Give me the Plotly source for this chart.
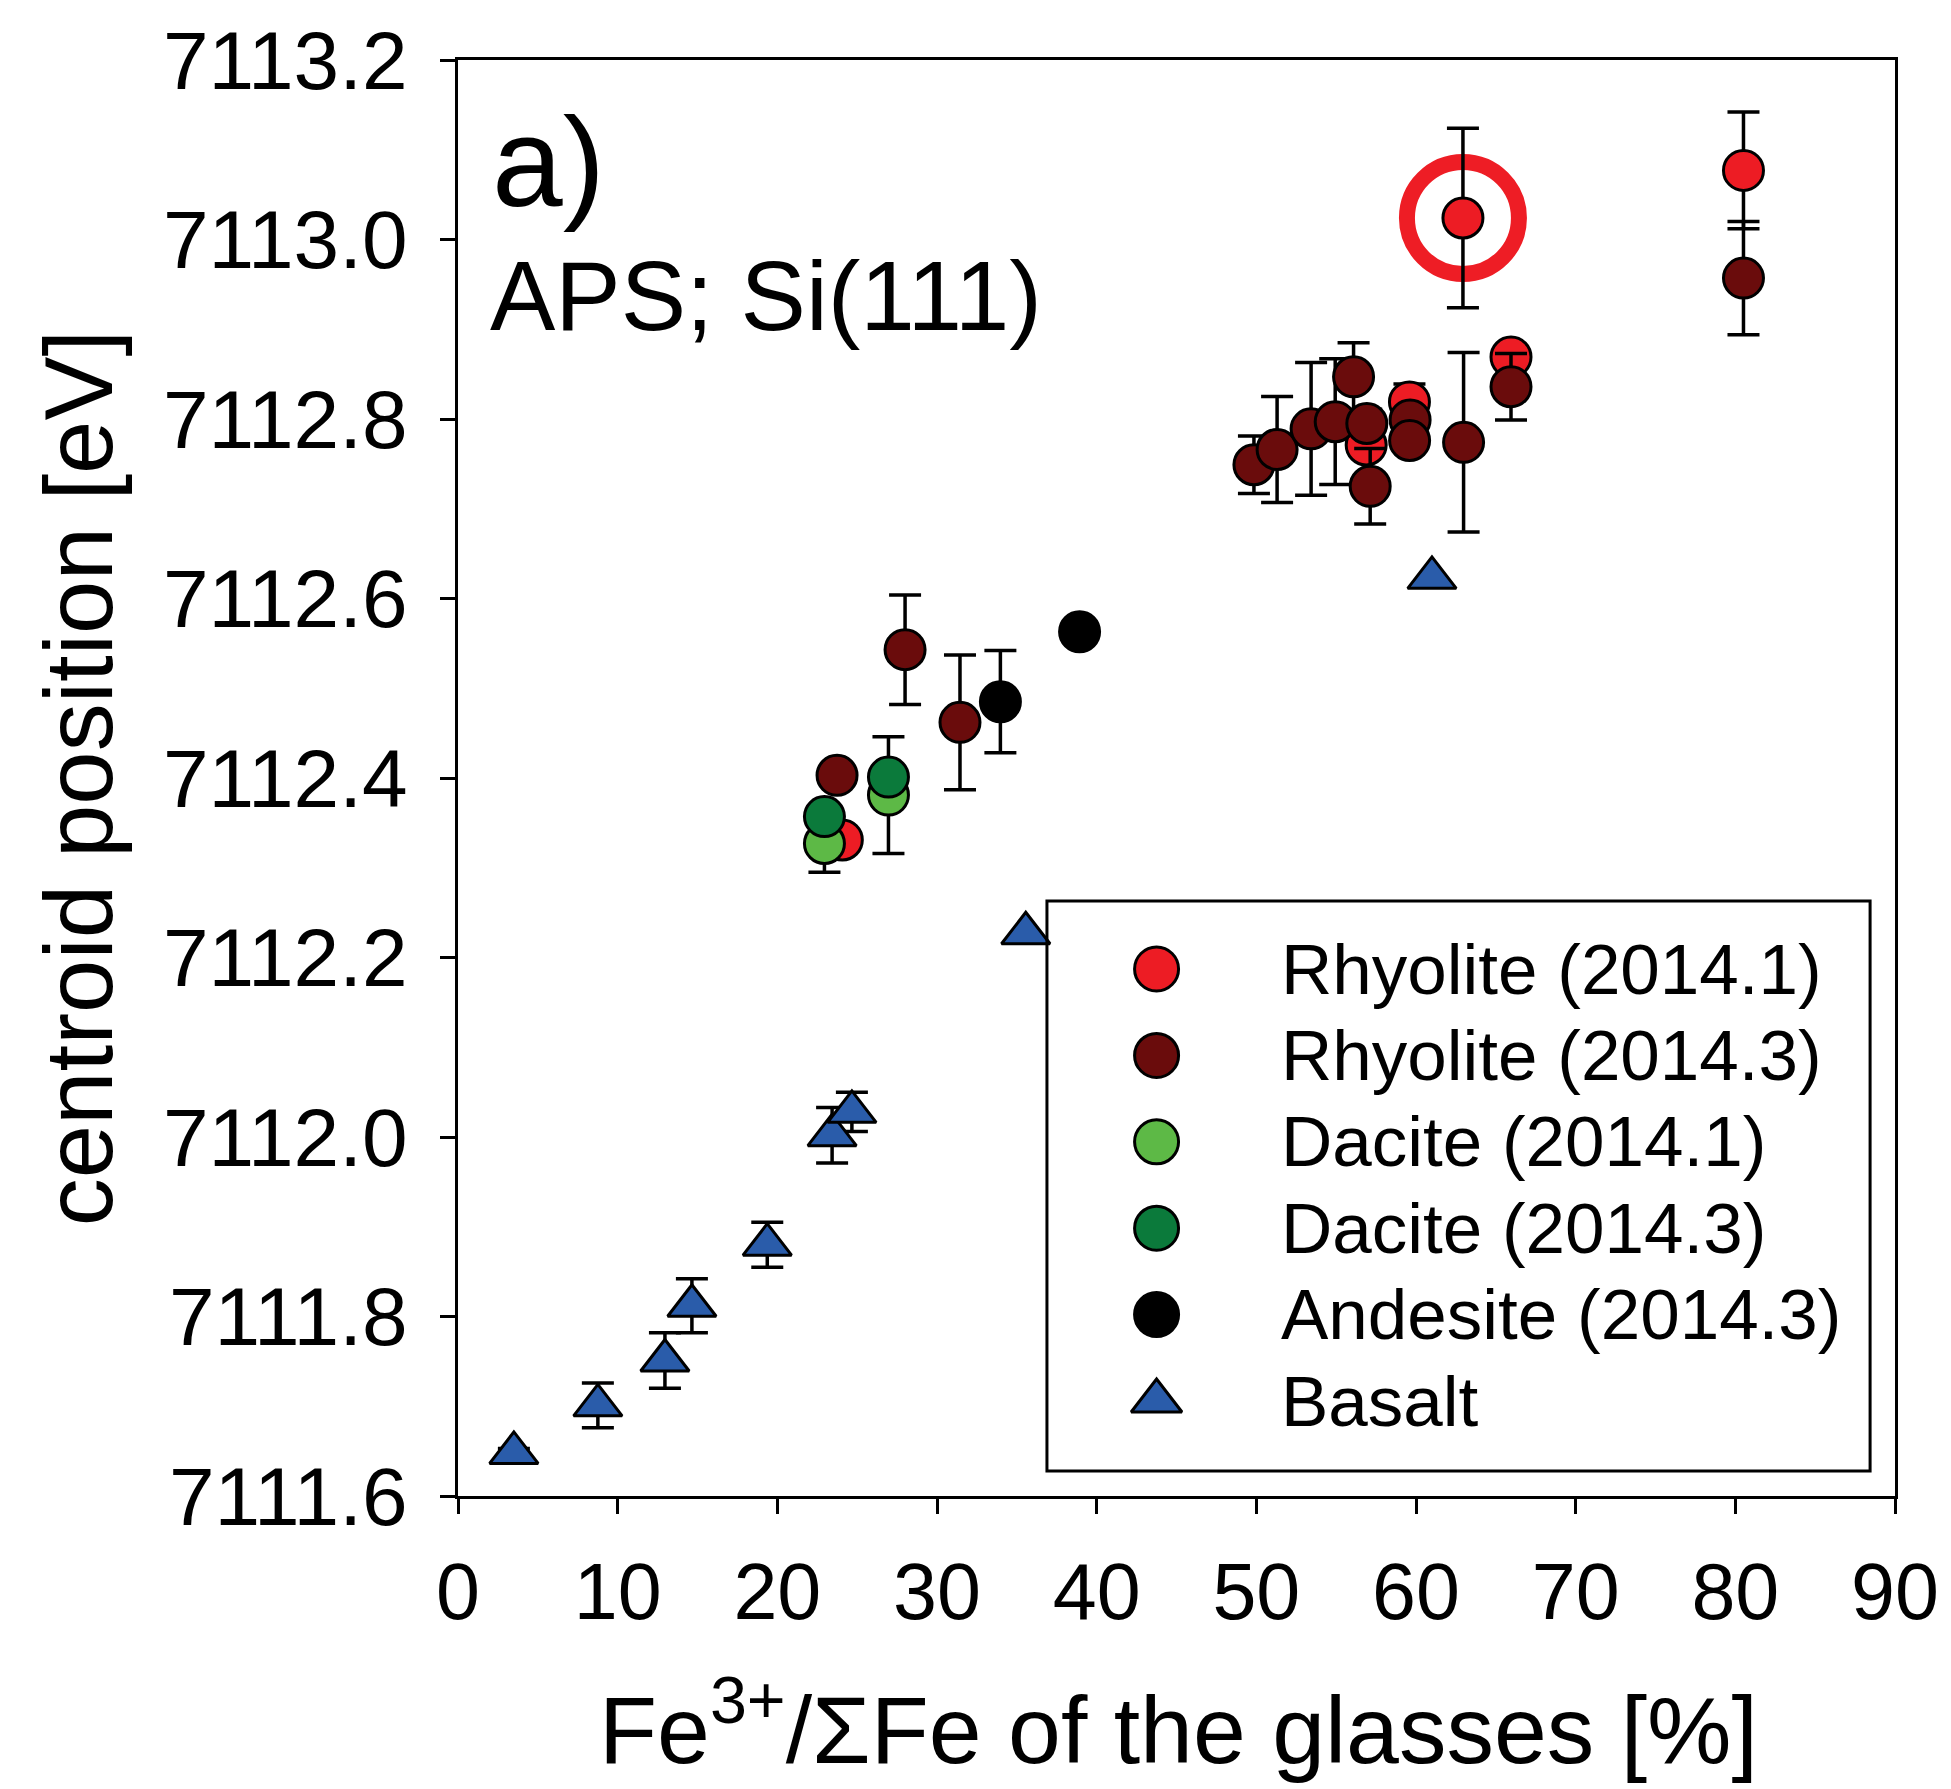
import plotly.graph_objects as go

# ---------------- data ----------------
rhy1_x = [24.07, 56.88, 59.59, 62.94, 65.95, 80.51]
rhy1_y = [7112.331, 7112.771, 7112.819, 7113.024, 7112.869, 7113.077]
rhy1_e = [None, 0.04, 0.02, 0.10, 0.01, 0.065]

rhy3_x = [23.74, 28.0, 31.44, 49.85, 51.3, 53.43, 54.94, 56.09, 56.92, 57.13,
          59.63, 59.6, 62.98, 65.95, 80.51]
rhy3_y = [7112.403, 7112.543, 7112.462, 7112.749, 7112.766, 7112.789, 7112.797,
          7112.847, 7112.795, 7112.725, 7112.799, 7112.776, 7112.774, 7112.836,
          7112.957]
rhy3_e = [None, 0.061, 0.075, 0.032, 0.059, 0.074, 0.070, 0.038, None, 0.042,
          None, None, 0.10, 0.037, 0.063]

dac1_x = [22.95, 26.96]
dac1_y = [7112.327, 7112.381]
dac1_e = [0.032, 0.065]

dac3_x = [22.95, 26.96]
dac3_y = [7112.357, 7112.401]
dac3_e = [None, None]

and3_x = [33.97, 38.93]
and3_y = [7112.485, 7112.563]
and3_e = [0.057, None]

bas_x = [3.5, 8.76, 12.96, 14.65, 19.37, 23.43, 24.67, 35.56, 61.0]
bas_y = [7111.648, 7111.701, 7111.751, 7111.812, 7111.880, 7112.002, 7112.028,
         7112.227, 7112.623]
bas_e = [0.005, 0.025, 0.031, 0.030, 0.025, 0.031, 0.022, None, None]

# highlighted sample (red ring)
hl_x = [62.94]
hl_y = [7113.024]

series_names = ["Rhyolite (2014.1)", "Rhyolite (2014.3)", "Dacite (2014.1)",
                "Dacite (2014.3)", "Andesite (2014.3)", "Basalt"]

x_ticks = [0, 10, 20, 30, 40, 50, 60, 70, 80, 90]
y_ticks = [7111.6, 7111.8, 7112.0, 7112.2, 7112.4, 7112.6, 7112.8, 7113.0, 7113.2]

# ---------------- styling ----------------
FONT = "Arial, Liberation Sans, sans-serif"
W, H = 1951, 1789
L, R, T, B = 458, 1900, 60, 1496      # plot area in pixels

colors = ["#ED1C24", "#6A0C0C", "#5DB946", "#0B7A3B", "#000000", "#2A5CAA"]
symbols = ["circle", "circle", "circle", "circle", "circle", "triangle-up"]


def px_x(X):
    return (X - L) / (R - L)


def px_y(Y):
    return (B - Y) / (B - T)


fig = go.Figure()

# highlight ring
fig.add_trace(go.Scatter(
    x=hl_x, y=hl_y, mode="markers", showlegend=False, hoverinfo="skip",
    marker=dict(symbol="circle-open", size=112, color="#EE1D25", opacity=1,
                line=dict(width=16, color="#EE1D25"))))

data = [(rhy1_x, rhy1_y, rhy1_e), (rhy3_x, rhy3_y, rhy3_e),
        (dac1_x, dac1_y, dac1_e), (dac3_x, dac3_y, dac3_e),
        (and3_x, and3_y, and3_e), (bas_x, bas_y, bas_e)]

for i, (xs, ys, es) in enumerate(data):
    tri = symbols[i] == "triangle-up"
    fig.add_trace(go.Scatter(
        x=xs, y=ys, mode="markers", name=series_names[i], showlegend=False,
        marker=dict(symbol=symbols[i], size=42 if tri else 40, color=colors[i],
                    opacity=1, line=dict(width=3, color="black")),
        error_y=dict(type="data", array=es, visible=True, color="black",
                     thickness=3.5, width=16)))

# ---------------- custom legend (pixel-space overlay axes) ----------------
LEG_BOX = (1049, 901, 1875, 1471)
LEG_KEY_X = 1159
LEG_TEXT_X = 1282
LEG_ROW0 = 969
LEG_DY = 86.4
rows = [LEG_ROW0 + k * LEG_DY for k in range(len(series_names))]

fig.add_trace(go.Scatter(
    x=[LEG_KEY_X] * len(rows), y=rows, xaxis="x2", yaxis="y2",
    mode="markers", showlegend=False, hoverinfo="skip",
    marker=dict(symbol=symbols, color=colors, opacity=1,
                size=[44 if s == "circle" else 44 for s in symbols],
                line=dict(width=3, color="black"))))

fig.add_shape(type="rect", xref="paper", yref="paper",
              x0=px_x(LEG_BOX[0]), x1=px_x(LEG_BOX[2]),
              y0=px_y(LEG_BOX[3]), y1=px_y(LEG_BOX[1]),
              line=dict(color="black", width=3), fillcolor="rgba(0,0,0,0)")

annotations = []
for name, ry in zip(series_names, rows):
    annotations.append(dict(
        text=name, xref="paper", yref="paper", x=px_x(LEG_TEXT_X), y=px_y(ry),
        xanchor="left", yanchor="middle", showarrow=False,
        font=dict(family=FONT, size=71, color="black")))

# panel texts
annotations.append(dict(text="a)", xref="paper", yref="paper",
                        x=px_x(490), y=px_y(162), xanchor="left", yanchor="middle",
                        showarrow=False, font=dict(family=FONT, size=127, color="black")))
annotations.append(dict(text="APS; Si(111)", xref="paper", yref="paper",
                        x=px_x(488), y=px_y(296), xanchor="left", yanchor="middle",
                        showarrow=False, font=dict(family=FONT, size=98, color="black")))

# axis titles
annotations.append(dict(text="centroid position [eV]", xref="paper", yref="paper",
                        x=px_x(77), y=0.5, xanchor="center", yanchor="middle",
                        textangle=-90, showarrow=False,
                        font=dict(family=FONT, size=96, color="black")))
annotations.append(dict(text="Fe<sup>3+</sup>/ΣFe of the glasses [%]",
                        xref="paper", yref="paper",
                        x=px_x(1181), y=px_y(1723), xanchor="center", yanchor="middle",
                        showarrow=False, font=dict(family=FONT, size=95, color="black")))

axis_common = dict(showline=True, linecolor="black", linewidth=3, mirror=True,
                   ticks="outside", ticklen=15, tickwidth=3, tickcolor="black",
                   showgrid=False, zeroline=False)

fig.update_layout(
    width=W, height=H, autosize=False,
    margin=dict(l=L, r=W - R, t=T, b=H - B, pad=0),
    paper_bgcolor="white", plot_bgcolor="white",
    showlegend=False,
    xaxis=dict(range=[0, 90], tickvals=x_ticks, ticktext=[str(v) for v in x_ticks],
               ticklabelstandoff=10,
               tickfont=dict(family=FONT, size=79, color="black"), **axis_common),
    yaxis=dict(range=[7111.6, 7113.2], tickvals=y_ticks,
               ticktext=[f"{v:.1f}" for v in y_ticks],
               ticklabelstandoff=16,
               tickfont=dict(family=FONT, size=82, color="black"), **axis_common),
    xaxis2=dict(range=[L, R], overlaying="x", visible=False, fixedrange=True),
    yaxis2=dict(range=[B, T], overlaying="y", visible=False, fixedrange=True),
    annotations=annotations,
)

fig.write_html("out.html")
